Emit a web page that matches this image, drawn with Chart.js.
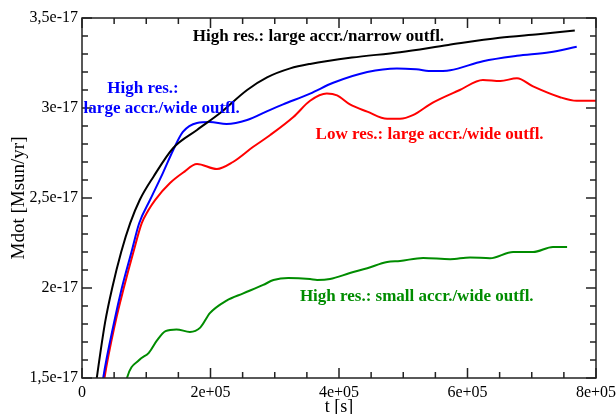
<!DOCTYPE html>
<html>
<head>
<meta charset="utf-8">
<script src="https://cdn.jsdelivr.net/npm/chart.js@4/dist/chart.umd.min.js"></script>
<style>
  body { margin: 0; background: #fff; }
  canvas { display: block; }
</style>
</head>
<body>
<canvas id="mdotChart" width="616" height="414"></canvas>
<script>
// t in units of 1e5 s, Mdot in units of 1e-17 Msun/yr
const tBlack = [0.20, 0.23, 0.36, 0.47, 0.61, 0.75, 0.90, 1.11, 1.42, 1.79, 2.15, 2.57, 2.88, 3.24, 3.55, 4.20, 4.95, 5.70, 6.50, 7.10, 7.67];
const mdotBlack = [1.42, 1.50, 1.81, 2.00, 2.20, 2.36, 2.49, 2.617, 2.778, 2.878, 2.972, 3.10, 3.17, 3.22, 3.245, 3.28, 3.31, 3.35, 3.39, 3.41, 3.43];

const tBlue = [0.30, 0.33, 0.50, 0.62, 0.77, 0.89, 1.06, 1.26, 1.42, 1.57, 1.79, 1.99, 2.25, 2.57, 2.93, 3.13, 3.55, 3.91, 4.44, 4.90, 5.20, 5.46, 5.73, 6.24, 6.77, 7.28, 7.70];
const mdotBlue = [1.42, 1.50, 1.81, 2.00, 2.20, 2.36, 2.49, 2.64, 2.767, 2.867, 2.917, 2.922, 2.911, 2.933, 2.99, 3.02, 3.08, 3.14, 3.20, 3.22, 3.215, 3.205, 3.21, 3.26, 3.29, 3.31, 3.34];

const tRed = [0.32, 0.35, 0.52, 0.65, 0.80, 0.93, 1.03, 1.14, 1.37, 1.57, 1.79, 2.10, 2.35, 2.66, 2.93, 3.29, 3.55, 3.81, 3.97, 4.17, 4.44, 4.75, 4.95, 5.15, 5.46, 5.88, 6.24, 6.51, 6.77, 7.02, 7.44, 7.70, 8.00];
const mdotRed = [1.42, 1.50, 1.81, 2.00, 2.20, 2.36, 2.43, 2.49, 2.583, 2.64, 2.689, 2.661, 2.70, 2.783, 2.85, 2.95, 3.04, 3.08, 3.07, 3.02, 2.98, 2.94, 2.94, 2.96, 3.03, 3.10, 3.156, 3.15, 3.165, 3.12, 3.06, 3.04, 3.04];

const tGreen = [0.66, 0.70, 0.89, 1.04, 1.17, 1.30, 1.47, 1.68, 1.84, 1.99, 2.25, 2.51, 2.82, 2.98, 3.21, 3.55, 3.66, 3.86, 4.17, 4.44, 4.75, 4.95, 5.31, 5.73, 6.04, 6.35, 6.71, 7.02, 7.33, 7.55];
const mdotGreen = [1.42, 1.50, 1.60, 1.64, 1.71, 1.76, 1.77, 1.756, 1.78, 1.86, 1.93, 1.97, 2.017, 2.044, 2.056, 2.05, 2.045, 2.05, 2.083, 2.11, 2.144, 2.15, 2.167, 2.16, 2.17, 2.165, 2.20, 2.20, 2.228, 2.228];

const xTickLabels = ['0', '2e+05', '4e+05', '6e+05', '8e+05'];
const yTickLabels = ['1,5e-17', '2e-17', '2,5e-17', '3e-17', '3,5e-17'];

const serif = "'Liberation Serif', 'DejaVu Serif', serif";

// text labels placed in data units: [text, t, mdot, colour]
const notes = [
  ['High res.: large accr./narrow outfl.', 3.68, 3.394, '#000000'],
  ['High res.:', 0.95, 3.11, '#0000ff'],
  ['large accr./wide outfl.', 1.24, 2.994, '#0000ff'],
  ['Low res.: large accr./wide outfl.', 5.41, 2.85, '#ff0000'],
  ['High res.: small accr./wide outfl.', 5.21, 1.95, '#008c00']
];

function pts(xs, ys) {
  return xs.map((x, i) => ({x: x, y: ys[i]}));
}

function line(xs, ys, color) {
  return {
    data: pts(xs, ys),
    borderColor: color,
    borderWidth: 2,
    pointRadius: 0,
    cubicInterpolationMode: 'monotone',
    fill: false
  };
}

const isMajor = (v, step) => Math.abs(v / step - Math.round(v / step)) < 1e-6;

const frameAndTicks = {
  id: 'frameAndTicks',
  afterDraw(chart) {
    const ctx = chart.ctx;
    const a = chart.chartArea;
    const xs = chart.scales.x, ys = chart.scales.y;
    ctx.save();
    ctx.strokeStyle = '#222';
    ctx.lineWidth = 1.5;
    // minor/major tick marks pointing inwards on all four sides
    for (const t of xs.ticks) {
      const px = xs.getPixelForValue(t.value);
      const len = isMajor(t.value, 2) ? 10 : 6;
      ctx.beginPath();
      ctx.moveTo(px, a.bottom);
      ctx.lineTo(px, a.bottom - len);
      ctx.moveTo(px, a.top);
      ctx.lineTo(px, a.top + len);
      ctx.stroke();
    }
    for (const t of ys.ticks) {
      const py = ys.getPixelForValue(t.value);
      const len = isMajor(t.value, 0.5) ? 10 : 6;
      ctx.beginPath();
      ctx.moveTo(a.left, py);
      ctx.lineTo(a.left + len, py);
      ctx.moveTo(a.right, py);
      ctx.lineTo(a.right - len, py);
      ctx.stroke();
    }
    ctx.strokeRect(a.left, a.top, a.right - a.left, a.bottom - a.top);

    ctx.font = 'bold 17px ' + serif;
    ctx.textAlign = 'center';
    ctx.textBaseline = 'middle';
    notes.forEach(n => {
      ctx.fillStyle = n[3];
      ctx.fillText(n[0], xs.getPixelForValue(n[1]), ys.getPixelForValue(n[2]));
    });
    ctx.restore();
  }
};

new Chart(document.getElementById('mdotChart'), {
  type: 'line',
  data: {
    datasets: [
      line(tBlack, mdotBlack, '#000000'),
      line(tBlue, mdotBlue, '#0000ff'),
      line(tRed, mdotRed, '#ff0000'),
      line(tGreen, mdotGreen, '#008c00')
    ]
  },
  options: {
    responsive: false,
    animation: false,
    layout: { padding: { left: 0, right: 20, top: 18, bottom: 0 } },
    plugins: { legend: { display: false }, tooltip: { enabled: false } },
    scales: {
      x: {
        type: 'linear',
        min: 0,
        max: 8,
        grid: { display: false, drawTicks: false },
        border: { display: false },
        ticks: {
          stepSize: 0.5,
          autoSkip: false,
          maxRotation: 0,
          padding: 5,
          color: '#000',
          font: { family: serif, size: 16 },
          callback: v => isMajor(v, 2) ? xTickLabels[Math.round(v / 2)] : ''
        },
        title: {
          display: true,
          text: 't [s]',
          color: '#000',
          font: { family: serif, size: 18, lineHeight: 0.8 },
          padding: { top: 0, bottom: 0 }
        },
        afterFit(s) { s.height = 36; s.paddingLeft = 0; s.paddingRight = 0; }
      },
      y: {
        type: 'linear',
        min: 1.5,
        max: 3.5,
        grid: { display: false, drawTicks: false },
        border: { display: false },
        ticks: {
          stepSize: 0.1,
          autoSkip: false,
          padding: 4,
          color: '#000',
          font: { family: serif, size: 16 },
          callback: v => isMajor(v, 0.5) ? yTickLabels[Math.round((v - 1.5) / 0.5)] : ''
        },
        title: {
          display: true,
          text: 'Mdot [Msun/yr]',
          color: '#000',
          font: { family: serif, size: 19, lineHeight: 1 },
          padding: { top: 10, bottom: 0 }
        },
        afterFit(s) { s.width = 82; s.paddingTop = 0; s.paddingBottom = 0; }
      }
    }
  },
  plugins: [frameAndTicks]
});
</script>
</body>
</html>
